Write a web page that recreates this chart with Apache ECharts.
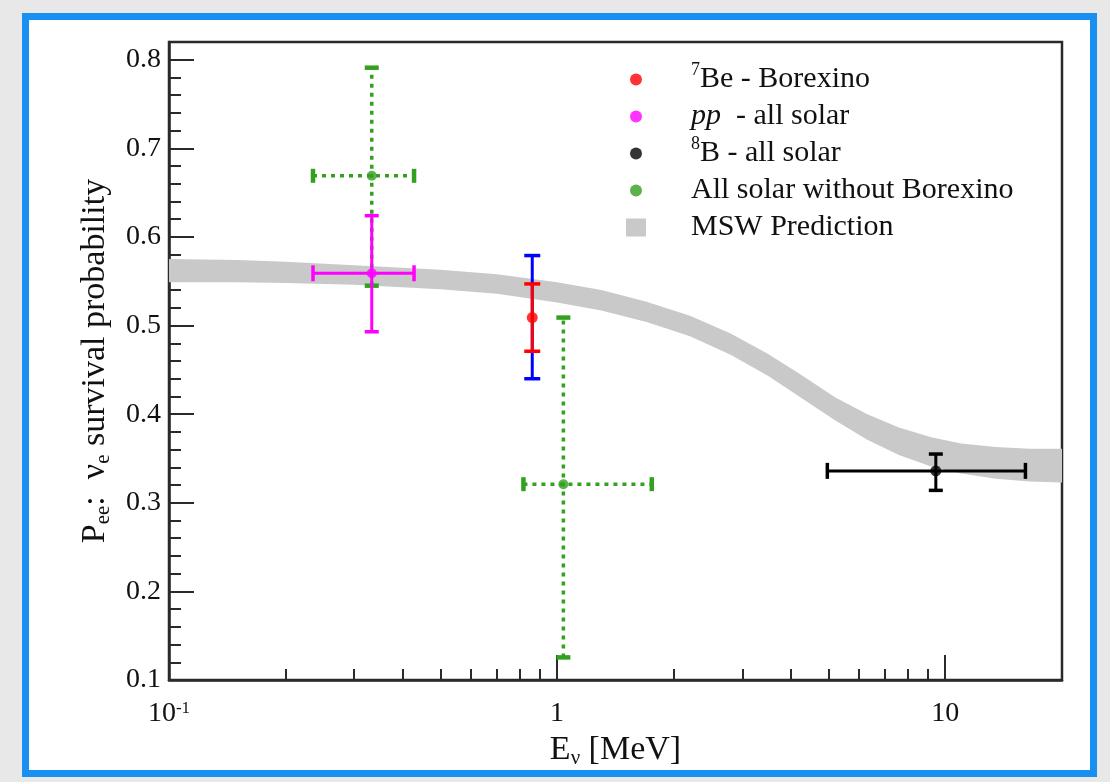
<!DOCTYPE html>
<html><head><meta charset="utf-8">
<script src="https://cdn.jsdelivr.net/npm/echarts@6/dist/echarts.min.js"></script>
<style>
html,body{margin:0;padding:0;width:1110px;height:782px;background:#e8e8e8;overflow:hidden}
#frame{position:absolute;left:22px;top:13px;width:1061px;height:750px;background:#fff;border:7px solid #1a8ff2;}
#chart{position:absolute;left:0;top:0;width:1110px;height:782px}
</style></head><body>
<div id="frame"></div><div id="chart"></div>
<script>
// ---------------- data ----------------
const legendNames = ['7Be - Borexino', 'pp - all solar', '8B - all solar', 'All solar without Borexino', 'MSW Prediction'];

// MSW prediction band (energy in MeV, lower / upper survival probability)
const mswEnergy = [0.1, 0.15, 0.2, 0.3, 0.5, 0.7, 1.0, 1.3, 1.7, 2.2, 2.8, 3.5, 4.3, 5.2, 6.3, 7.6, 9.2, 11, 13.5, 16.5, 20];
const mswUpper  = [0.575, 0.574, 0.572, 0.568, 0.563, 0.558, 0.549, 0.540, 0.527, 0.511, 0.491, 0.468, 0.443, 0.419, 0.400, 0.385, 0.374, 0.367, 0.363, 0.361, 0.361];
const mswLower  = [0.549, 0.549, 0.548, 0.546, 0.541, 0.536, 0.526, 0.517, 0.504, 0.488, 0.467, 0.443, 0.417, 0.393, 0.371, 0.354, 0.341, 0.333, 0.327, 0.324, 0.323];

// 7Be - Borexino
const beX = [0.863];
const beY = [0.509];
const beYStat = [[0.471, 0.547]];
const beYTot  = [[0.440, 0.579]];

// pp - all solar
const ppX = [0.333];
const ppY = [0.559];
const ppXErr = [[0.235, 0.428]];
const ppYErr = [[0.493, 0.624]];

// 8B - all solar
const b8X = [9.46];
const b8Y = [0.336];
const b8XErr = [[4.97, 16.1]];
const b8YErr = [[0.314, 0.355]];

// All solar without Borexino
const noBxX = [0.333, 1.038];
const noBxY = [0.669, 0.321];
const noBxXErr = [[0.235, 0.428], [0.819, 1.754]];
const noBxYErr = [[0.545, 0.791], [0.1255, 0.509]];

// axis ticks
const xTickValues = [0.1, 1, 10];
const xTickLabels = ['{b|10}{sup|-1}', '1', '10'];
const yTickValues = [0.1, 0.2, 0.3, 0.4, 0.5, 0.6, 0.7, 0.8];
const yTickLabels = ['0.1', '0.2', '0.3', '0.4', '0.5', '0.6', '0.7', '0.8'];

// ---------------- style ----------------
const FONT = '"Liberation Serif", "DejaVu Serif", serif';
const C_RED = '#ff0000', C_BLUE = '#0000ff', C_MAG = '#ff00ff', C_BLK = '#000000', C_GRN = '#33a020', C_BAND = '#c9c9c9', C_AXIS = '#2a2a2a';

function errData(xs, ys, xe, ye) {
  return xs.map((x, i) => [x, ys[i], xe ? xe[i][0] : x, xe ? xe[i][1] : x, ye[i][0], ye[i][1]]);
}

function errRender(opt) {
  return function (params, api) {
    const x = api.value(0), y = api.value(1);
    const xl = api.value(2), xh = api.value(3), yl = api.value(4), yh = api.value(5);
    const c = api.coord([x, y]);
    const st = { stroke: opt.color, lineWidth: opt.width, lineDash: opt.dash || null, fill: null };
    const cap = { stroke: opt.color, lineWidth: opt.capWidth, fill: null };
    const ch = [];
    if (xh > xl) {
      const a = api.coord([xl, y]), b = api.coord([xh, y]);
      ch.push({ type: 'line', shape: { x1: a[0], y1: c[1], x2: b[0], y2: c[1] }, style: st });
      ch.push({ type: 'line', shape: { x1: a[0], y1: c[1] - opt.capX, x2: a[0], y2: c[1] + opt.capX }, style: cap });
      ch.push({ type: 'line', shape: { x1: b[0], y1: c[1] - opt.capX, x2: b[0], y2: c[1] + opt.capX }, style: cap });
    }
    const t = api.coord([x, yh]), d = api.coord([x, yl]);
    ch.push({ type: 'line', shape: { x1: c[0], y1: d[1], x2: c[0], y2: t[1] }, style: st });
    ch.push({ type: 'line', shape: { x1: c[0] - opt.capY, y1: t[1], x2: c[0] + opt.capY, y2: t[1] }, style: cap });
    ch.push({ type: 'line', shape: { x1: c[0] - opt.capY, y1: d[1], x2: c[0] + opt.capY, y2: d[1] }, style: cap });
    return { type: 'group', children: ch };
  };
}

function bandRender(params, api) {
  if (params.dataIndex !== 0) return null;
  const pts = [];
  for (let i = 0; i < mswEnergy.length; i++) pts.push(api.coord([mswEnergy[i], mswLower[i]]));
  for (let i = mswEnergy.length - 1; i >= 0; i--) pts.push(api.coord([mswEnergy[i], mswUpper[i]]));
  return { type: 'polygon', shape: { points: pts }, style: { fill: C_BAND, stroke: null } };
}

const legendRich = {
  n: { fontFamily: FONT, fontSize: 30, lineHeight: 37, color: '#111' },
  it: { fontFamily: FONT, fontSize: 30, lineHeight: 37, color: '#111', fontStyle: 'italic' },
  sup: { fontFamily: FONT, fontSize: 18, lineHeight: 22, color: '#111', verticalAlign: 'top' }
};
const legendText = {
  '7Be - Borexino': '{sup|7}{n|Be - Borexino}',
  'pp - all solar': '{it|pp}{n|  - all solar}',
  '8B - all solar': '{sup|8}{n|B - all solar}',
  'All solar without Borexino': '{n|All solar without Borexino}',
  'MSW Prediction': '{n|MSW Prediction}'
};
const legendTextStyle = { fontFamily: FONT, fontSize: 30, color: '#111', lineHeight: 37, rich: legendRich };

const titleRich = {
  n: { fontFamily: FONT, fontSize: 34, lineHeight: 38, color: '#111' },
  sub: { fontFamily: FONT, fontSize: 21, lineHeight: 22, color: '#111', verticalAlign: 'bottom' }
};

const chart = echarts.init(document.getElementById('chart'), null, { renderer: 'canvas' });
chart.setOption({
  backgroundColor: 'transparent',
  animation: false,
  grid: { left: 169, right: 48, top: 42, bottom: 102, show: true, borderColor: C_AXIS, borderWidth: 2.5, backgroundColor: 'transparent' },
  legend: [
    {
      orient: 'vertical', left: 625, top: 56, itemWidth: 12, itemHeight: 12, itemGap: 0,
      selectedMode: false,
      data: [
        { name: legendNames[0], icon: 'circle', itemStyle: { color: C_RED } },
        { name: legendNames[1], icon: 'circle', itemStyle: { color: C_MAG } },
        { name: legendNames[2], icon: 'circle', itemStyle: { color: C_BLK } },
        { name: legendNames[3], icon: 'circle', itemStyle: { color: C_GRN } }
      ],
      formatter: name => legendText[name],
      textStyle: Object.assign({ padding: [0, 0, 0, 44] }, legendTextStyle)
    },
    {
      orient: 'vertical', left: 621, top: 204, itemWidth: 20, itemHeight: 18, itemGap: 0,
      selectedMode: false,
      data: [{ name: legendNames[4], icon: 'rect', itemStyle: { color: C_BAND } }],
      formatter: name => legendText[name],
      textStyle: Object.assign({ padding: [0, 0, 0, 40] }, legendTextStyle)
    }
  ],
  xAxis: {
    type: 'log', logBase: 10, min: 0.1, max: 20,
    axisLine: { show: true, lineStyle: { color: C_AXIS, width: 2.5 } },
    axisTick: { show: true, inside: true, length: 25, customValues: xTickValues, lineStyle: { color: C_AXIS, width: 2 } },
    minorTick: { show: true, splitNumber: 9, length: 11, lineStyle: { color: C_AXIS, width: 2 } },
    splitLine: { show: false }, minorSplitLine: { show: false },
    axisLabel: {
      margin: 20, fontFamily: FONT, fontSize: 28, color: '#111', customValues: xTickValues,
      formatter: v => { const i = xTickValues.findIndex(t => Math.abs(t - v) / t < 1e-5); return i >= 0 ? xTickLabels[i] : ''; },
      rich: { b: { fontFamily: FONT, fontSize: 28, color: '#111' }, sup: { fontFamily: FONT, fontSize: 17, color: '#111', verticalAlign: 'top', lineHeight: 14 } }
    },
    name: '{n|E}{sub|ν}{n| [MeV]}', nameLocation: 'middle', nameGap: 46,
    nameTextStyle: { rich: titleRich }
  },
  yAxis: {
    type: 'value', min: 0.1, max: 0.82, interval: 0.1,
    axisLine: { show: true, lineStyle: { color: C_AXIS, width: 2.5 } },
    axisTick: { show: true, inside: true, length: 25, lineStyle: { color: C_AXIS, width: 2 } },
    minorTick: { show: true, splitNumber: 5, length: 12, lineStyle: { color: C_AXIS, width: 2 } },
    splitLine: { show: false },
    axisLabel: {
      margin: 8, fontFamily: FONT, fontSize: 28, color: '#111', showMaxLabel: false,
      formatter: v => { const i = yTickValues.findIndex(t => Math.abs(t - v) < 1e-6); return i >= 0 ? yTickLabels[i] : ''; }
    },
    name: '{n|P}{sub|ee}{n|:  ν}{sub|e}{n| survival probability}', nameLocation: 'middle', nameGap: 55, nameRotate: 90,
    nameTextStyle: { rich: titleRich }
  },
  series: [
    { type: 'custom', name: 'MSW Prediction', renderItem: bandRender, z: 1, silent: true,
      data: mswEnergy.map((e, i) => [e, mswLower[i], mswUpper[i]]), encode: { x: 0, y: [1, 2] }, itemStyle: { color: C_BAND } },
    { type: 'custom', name: 'noBxErr', z: 2, silent: true, renderItem: errRender({ color: C_GRN, width: 3.5, dash: [4, 5], capWidth: 4.5, capX: 7, capY: 7 }),
      data: errData(noBxX, noBxY, noBxXErr, noBxYErr), encode: { x: 0, y: 1 } },
    { type: 'custom', name: 'ppErr', z: 3, silent: true, renderItem: errRender({ color: C_MAG, width: 3, capWidth: 3.5, capX: 8, capY: 7 }),
      data: errData(ppX, ppY, ppXErr, ppYErr), encode: { x: 0, y: 1 } },
    { type: 'custom', name: 'beTotErr', z: 3, silent: true, renderItem: errRender({ color: C_BLUE, width: 3, capWidth: 3.5, capX: 8, capY: 8 }),
      data: errData(beX, beY, null, beYTot), encode: { x: 0, y: 1 } },
    { type: 'custom', name: 'beStatErr', z: 4, silent: true, renderItem: errRender({ color: C_RED, width: 3, capWidth: 3.5, capX: 8, capY: 8 }),
      data: errData(beX, beY, null, beYStat), encode: { x: 0, y: 1 } },
    { type: 'custom', name: 'b8Err', z: 3, silent: true, renderItem: errRender({ color: C_BLK, width: 3, capWidth: 3.5, capX: 8, capY: 7 }),
      data: errData(b8X, b8Y, b8XErr, b8YErr), encode: { x: 0, y: 1 } },
    { type: 'scatter', name: legendNames[3], z: 5, symbol: 'circle', symbolSize: 10, itemStyle: { color: C_GRN }, data: noBxX.map((x, i) => [x, noBxY[i]]) },
    { type: 'scatter', name: legendNames[1], z: 5, symbol: 'circle', symbolSize: 10, itemStyle: { color: C_MAG }, data: ppX.map((x, i) => [x, ppY[i]]) },
    { type: 'scatter', name: legendNames[0], z: 6, symbol: 'circle', symbolSize: 11, itemStyle: { color: C_RED }, data: beX.map((x, i) => [x, beY[i]]) },
    { type: 'scatter', name: legendNames[2], z: 5, symbol: 'circle', symbolSize: 11, itemStyle: { color: C_BLK }, data: b8X.map((x, i) => [x, b8Y[i]]) }
  ]
});
</script>
</body></html>
